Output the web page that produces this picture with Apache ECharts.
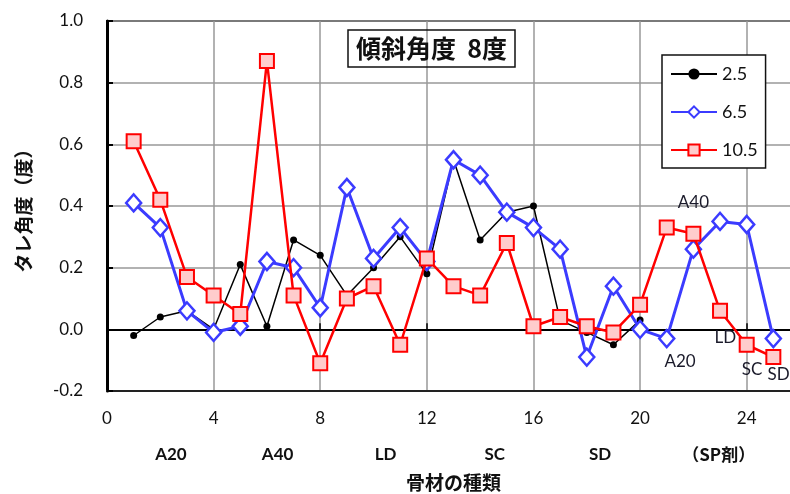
<!DOCTYPE html>
<html>
<head>
<meta charset="utf-8">
<script src="https://cdn.jsdelivr.net/npm/echarts@6/dist/echarts.min.js"></script>
<style>
  html, body { margin: 0; padding: 0; background: #fff; }
  #chart { width: 790px; height: 494px; }
</style>
</head>
<body>
<div id="chart"></div>
<script>
// Sag angle per aggregate sample, inclination 8 degrees
const seriesNames = ['2.5', '6.5', '10.5'];
const sag25 = [-0.02, 0.04, 0.06, 0.00, 0.21, 0.01, 0.29, 0.24, 0.11, 0.20,
               0.30, 0.18, 0.55, 0.29, 0.38, 0.40, 0.03, -0.01, -0.05, 0.03];
const sag65 = [0.41, 0.33, 0.06, -0.01, 0.01, 0.22, 0.20, 0.07, 0.46, 0.23,
               0.33, 0.22, 0.55, 0.50, 0.38, 0.33, 0.26, -0.09, 0.14, 0.00,
               -0.03, 0.26, 0.35, 0.34, -0.03];
const sag105 = [0.61, 0.42, 0.17, 0.11, 0.05, 0.87, 0.11, -0.11, 0.10, 0.14,
                -0.05, 0.23, 0.14, 0.11, 0.28, 0.01, 0.04, 0.01, -0.01, 0.08,
                0.33, 0.31, 0.06, -0.05, -0.09];

// Aggregate groups written under the x axis, with their centre positions
const groupLabels = ['A20', 'A40', 'LD', 'SC', 'SD', '（SP剤）'];
const groupCentres = [2.4, 6.4, 10.45, 14.55, 18.5, 22.95];

// Notes beside the SP agent points
const noteLabels = ['A40', 'A20', 'LD', 'SC', 'SD'];
const notePos = [[22.0, 0.41], [21.5, -0.105], [23.2, -0.025], [24.2, -0.13], [25.2, -0.145]];

const xTicks = { min: 0, max: 26, interval: 4 };
const yTicks = { min: -0.2, max: 1.0, interval: 0.2 };

const latin = 'Lato, "Noto Sans", sans-serif';
const cjk = '"Noto Sans CJK JP", "Noto Sans", sans-serif';

const toPairs = arr => arr.map((v, i) => [i + 1, v]);

const chart = echarts.init(document.getElementById('chart'), null, { renderer: 'canvas' });

chart.setOption({
  animation: false,
  backgroundColor: '#fff',
  title: {
    text: '傾斜角度  8度',
    left: 348,
    top: 30,
    padding: [6, 8, 6, 8],
    borderColor: '#111',
    borderWidth: 1.5,
    textStyle: { fontFamily: cjk, fontSize: 25, fontWeight: 'bold', color: '#111' }
  },
  legend: {
    orient: 'vertical',
    left: 662,
    top: 55,
    padding: [10, 8, 9, 8],
    itemWidth: 46,
    itemHeight: 14,
    itemGap: 20,
    borderColor: '#111',
    borderWidth: 1.5,
    backgroundColor: '#fff',
    data: seriesNames,
    textStyle: { fontFamily: latin, fontSize: 18, color: '#111' }
  },
  grid: {
    left: 107, top: 21, width: 693, height: 370,
    outerBoundsMode: 'none',
    containLabel: false,
    show: true, borderColor: '#222', borderWidth: 2
  },
  xAxis: [
    {
      type: 'value',
      min: xTicks.min, max: xTicks.max, interval: xTicks.interval,
      axisLine: { onZero: false, lineStyle: { color: '#222', width: 2 } },
      axisTick: { show: false },
      axisLabel: { margin: 19, fontFamily: latin, fontSize: 17, color: '#111', showMaxLabel: false },
      splitLine: { show: true, lineStyle: { color: '#999', width: 1.5 } },
      name: '骨材の種類',
      nameLocation: 'middle',
      nameGap: 82,
      nameTextStyle: { fontFamily: cjk, fontSize: 19, fontWeight: 'bold', color: '#111' }
    },
    {
      // zero line with its inner ticks
      type: 'value',
      position: 'bottom',
      min: xTicks.min, max: xTicks.max, interval: xTicks.interval,
      axisLine: { onZero: true, lineStyle: { color: '#000', width: 2 } },
      axisTick: { show: true, inside: true, length: 6, lineStyle: { color: '#000', width: 1.5 } },
      axisLabel: { show: false },
      splitLine: { show: false }
    }
  ],
  yAxis: {
    type: 'value',
    min: yTicks.min, max: yTicks.max, interval: yTicks.interval,
    axisLine: { show: true, lineStyle: { color: '#000', width: 3 } },
    axisTick: { show: true, inside: true, length: 6, lineStyle: { color: '#000', width: 2 } },
    axisLabel: {
      margin: 24, fontFamily: latin, fontSize: 17, color: '#111',
      formatter: v => v.toFixed(1)
    },
    splitLine: { show: true, lineStyle: { color: '#999', width: 1.5 } },
    name: 'タレ角度（度）',
    nameLocation: 'middle',
    nameGap: 74,
    nameTextStyle: { fontFamily: cjk, fontSize: 19, fontWeight: 'bold', color: '#111' }
  },
  series: [
    {
      name: seriesNames[0],
      type: 'line',
      data: toPairs(sag25),
      symbol: 'circle',
      symbolSize: 7,
      lineStyle: { color: '#000', width: 1.5 },
      itemStyle: { color: '#000' },
      z: 3
    },
    {
      name: seriesNames[1],
      type: 'line',
      data: toPairs(sag65),
      symbol: 'diamond',
      symbolSize: [15, 17],
      lineStyle: { color: '#3b3bff', width: 3 },
      itemStyle: { color: '#fff', borderColor: '#3b3bff', borderWidth: 2.5 },
      z: 4
    },
    {
      name: seriesNames[2],
      type: 'line',
      data: toPairs(sag105),
      symbol: 'rect',
      symbolSize: 14,
      lineStyle: { color: '#ff0000', width: 2.5 },
      itemStyle: { color: '#ffcccc', borderColor: '#ff0000', borderWidth: 2 },
      z: 5
    }
  ]
});

// Text placed in data coordinates: group names under the axis and point notes
const bottomY = chart.convertToPixel({ gridIndex: 0 }, [0, yTicks.min])[1];
const graphics = [];
groupLabels.forEach((t, i) => {
  const px = chart.convertToPixel({ xAxisIndex: 0 }, groupCentres[i]);
  graphics.push({
    type: 'text', x: px, y: bottomY + 64, z: 10,
    style: { text: t, fontFamily: t.indexOf('剤') >= 0 ? cjk : latin, fontSize: 17, fontWeight: 'bold',
             fill: '#111', align: 'center', verticalAlign: 'middle' }
  });
});
noteLabels.forEach((t, i) => {
  const p = chart.convertToPixel({ gridIndex: 0 }, notePos[i]);
  graphics.push({
    type: 'text', x: p[0], y: p[1], z: 10,
    style: { text: t, fontFamily: latin, fontSize: 17, fill: '#1a1a2a',
             align: 'center', verticalAlign: 'middle' }
  });
});
chart.setOption({ graphic: graphics });
</script>
</body>
</html>
